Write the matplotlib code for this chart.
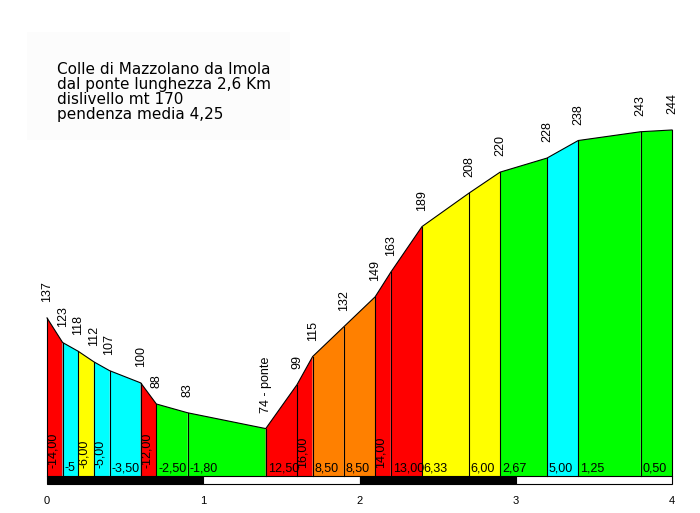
import matplotlib.pyplot as plt
from matplotlib.patches import Rectangle

# distanze (km) e quote (m) dei punti del profilo
km = [0.0, 0.1, 0.2, 0.3, 0.4, 0.6, 0.7, 0.9, 1.4, 1.6, 1.7, 1.9, 2.1, 2.2, 2.4, 2.7, 2.9, 3.2, 3.4, 3.8, 4.0]
quota = [137, 123, 118, 112, 107, 100, 88, 83, 74, 99, 115, 132, 149, 163, 189, 208, 220, 228, 238, 243, 244]
etichette_quota = [str(q) for q in quota]
etichette_quota[8] = '74 - ponte'

pendenze = ['-14,00', '-5', '-6,00', '-5,00', '-3,50', '-12,00', '-2,50', '-1,80', '12,50', '16,00',
            '8,50', '8,50', '14,00', '13,00', '6,33', '6,00', '2,67', '5,00', '1,25', '0,50']
colori = ['#ff0000', '#00ffff', '#ffff00', '#00ffff', '#00ffff', '#ff0000', '#00ff00', '#00ff00', '#ff0000', '#ff0000',
          '#ff8000', '#ff8000', '#ff0000', '#ff0000', '#ffff00', '#ffff00', '#00ff00', '#00ffff', '#00ff00', '#00ff00']

km_ticks = [0, 1, 2, 3, 4]
titolo = ['Colle di Mazzolano da Imola', 'dal ponte lunghezza 2,6 Km', 'dislivello mt 170', 'pendenza media 4,25']

base = 47
px_km = 156.25
px_m = 1.757

fig = plt.figure(figsize=(7, 5.13), dpi=100)
ax = fig.add_axes([0, 0, 1, 1])
ax.set_xlim(-47 / px_km, (700 - 47) / px_km)
ax.set_ylim(base - 37 / px_m, 137 + 318 / px_m)
ax.axis('off')

for i in range(len(pendenze)):
    x0, x1 = km[i], km[i + 1]
    ax.fill([x0, x1, x1, x0], [base, base, quota[i + 1], quota[i]], color=colori[i], lw=0)
    ax.plot([x0, x0], [base, quota[i]], color='black', lw=0.8)
    lbl = pendenze[i]
    if x1 - x0 < 0.15 and len(lbl) > 2:
        ax.text(x0 + 0.038, base + 8 / px_m, lbl, rotation=90, ha='center', va='bottom',
                fontsize=9, family='Liberation Sans')
    else:
        ax.text(x0 + 0.012, base + 2 / px_m, lbl, ha='left', va='bottom',
                fontsize=9, family='Liberation Sans')
ax.plot([km[-1], km[-1]], [base, quota[-1]], color='black', lw=0.8)
ax.plot(km, quota, color='black', lw=0.8)

for x, q, t in zip(km, quota, etichette_quota):
    ax.text(x, q + 16 / px_m, t, rotation=90, ha='center', va='bottom',
            fontsize=9, family='Liberation Sans')

# barra chilometrica
h = 8 / px_m
for k in range(4):
    ax.add_patch(Rectangle((k, base - h), 1, h, facecolor='black' if k % 2 == 0 else 'white',
                           edgecolor='black', lw=0.8))
for k in km_ticks:
    ax.text(k, base - 25 / px_m, str(k), ha='center', va='center', fontsize=8, family='Liberation Sans')

ax.add_patch(Rectangle((-20 / px_km, 137 + (318 - 140) / px_m), 263 / px_km, 108 / px_m,
                       facecolor='#fcfcfc', edgecolor='none', zorder=0))
ax.text(10 / px_km, 137 + (318 - 62) / px_m, '\n'.join(titolo), ha='left', va='top',
        fontsize=11, family='DejaVu Sans', linespacing=1.0)

fig.savefig('out.png', dpi=100)
